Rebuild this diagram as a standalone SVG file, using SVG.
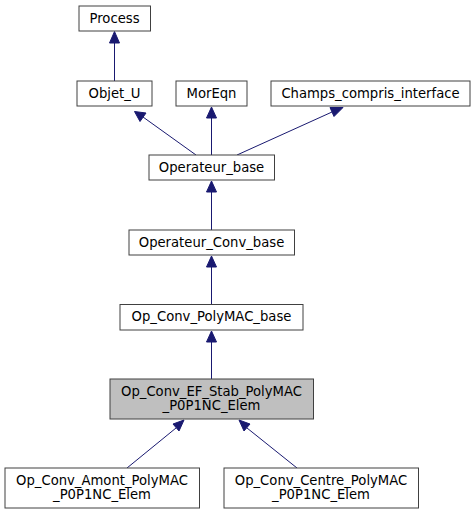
<svg xmlns="http://www.w3.org/2000/svg" width="475" height="515" viewBox="0 0 475 515">
<style>
.n rect{fill:#fff;stroke:#404040;stroke-width:1}
.n.h rect{fill:#bfbfbf}
.n text{font-family:"DejaVu Sans",sans-serif;font-size:13.2px;text-anchor:middle;fill:#000}
.e line{stroke:#191970;stroke-width:1}
.e polygon{fill:#191970;stroke:#191970}
</style>
<rect width="475" height="515" fill="#fff"/>
<g class="e">
<line x1="114.5" y1="81" x2="114.5" y2="41"/>
<polygon points="109.5,43 114.5,31.5 119.5,43"/>
<line x1="196" y1="155" x2="143" y2="117"/>
<polygon points="140,121.5 134.5,111.5 146,113"/>
<line x1="211.5" y1="155" x2="211.5" y2="117"/>
<polygon points="206.5,118 211.5,107 216.5,118"/>
<line x1="237" y1="155" x2="332" y2="112"/>
<polygon points="330,107.5 343,107.5 334,116.5"/>
<line x1="211.5" y1="230" x2="211.5" y2="191"/>
<polygon points="206.5,192 211.5,181 216.5,192"/>
<line x1="211.5" y1="304" x2="211.5" y2="266"/>
<polygon points="206.5,267 211.5,256 216.5,267"/>
<line x1="211.5" y1="379" x2="211.5" y2="341"/>
<polygon points="206.5,342 211.5,331 216.5,342"/>
<line x1="127" y1="468" x2="176" y2="428"/>
<polygon points="173,424 184,420 179,431"/>
<line x1="297" y1="468" x2="247" y2="428"/>
<polygon points="244,431 239,420 250,424"/>
</g>
<g id="process" class="n"><rect x="79" y="6" width="71.5" height="25"/><text x="114.5" y="22.5">Process</text></g>
<g id="objet_u" class="n"><rect x="77" y="81" width="75" height="25"/><text x="114.5" y="97.5">Objet_U</text></g>
<g id="moreqn" class="n"><rect x="176" y="81" width="71" height="25"/><text x="211.5" y="97.5">MorEqn</text></g>
<g id="champs" class="n"><rect x="271" y="81" width="199" height="25"/><text x="370.5" y="97.5">Champs_compris_interface</text></g>
<g id="operateur_base" class="n"><rect x="149" y="155" width="125.5" height="25"/><text x="211.5" y="171.5">Operateur_base</text></g>
<g id="operateur_conv_base" class="n"><rect x="129" y="230" width="165.5" height="25"/><text x="211.5" y="246.5">Operateur_Conv_base</text></g>
<g id="op_conv_polymac_base" class="n"><rect x="120" y="304.5" width="183" height="25.5"/><text x="211.5" y="321">Op_Conv_PolyMAC_base</text></g>
<g id="ef_stab" class="n h"><rect x="110" y="379" width="203.5" height="40"/><text x="211.5" y="395.5">Op_Conv_EF_Stab_PolyMAC</text><text x="211.5" y="409.5">_P0P1NC_Elem</text></g>
<g id="amont" class="n"><rect x="5" y="468" width="194.5" height="40"/><text x="102" y="484.5">Op_Conv_Amont_PolyMAC</text><text x="102" y="498.5">_P0P1NC_Elem</text></g>
<g id="centre" class="n"><rect x="224" y="468" width="194.5" height="40"/><text x="321" y="484.5">Op_Conv_Centre_PolyMAC</text><text x="321" y="498.5">_P0P1NC_Elem</text></g>
</svg>
